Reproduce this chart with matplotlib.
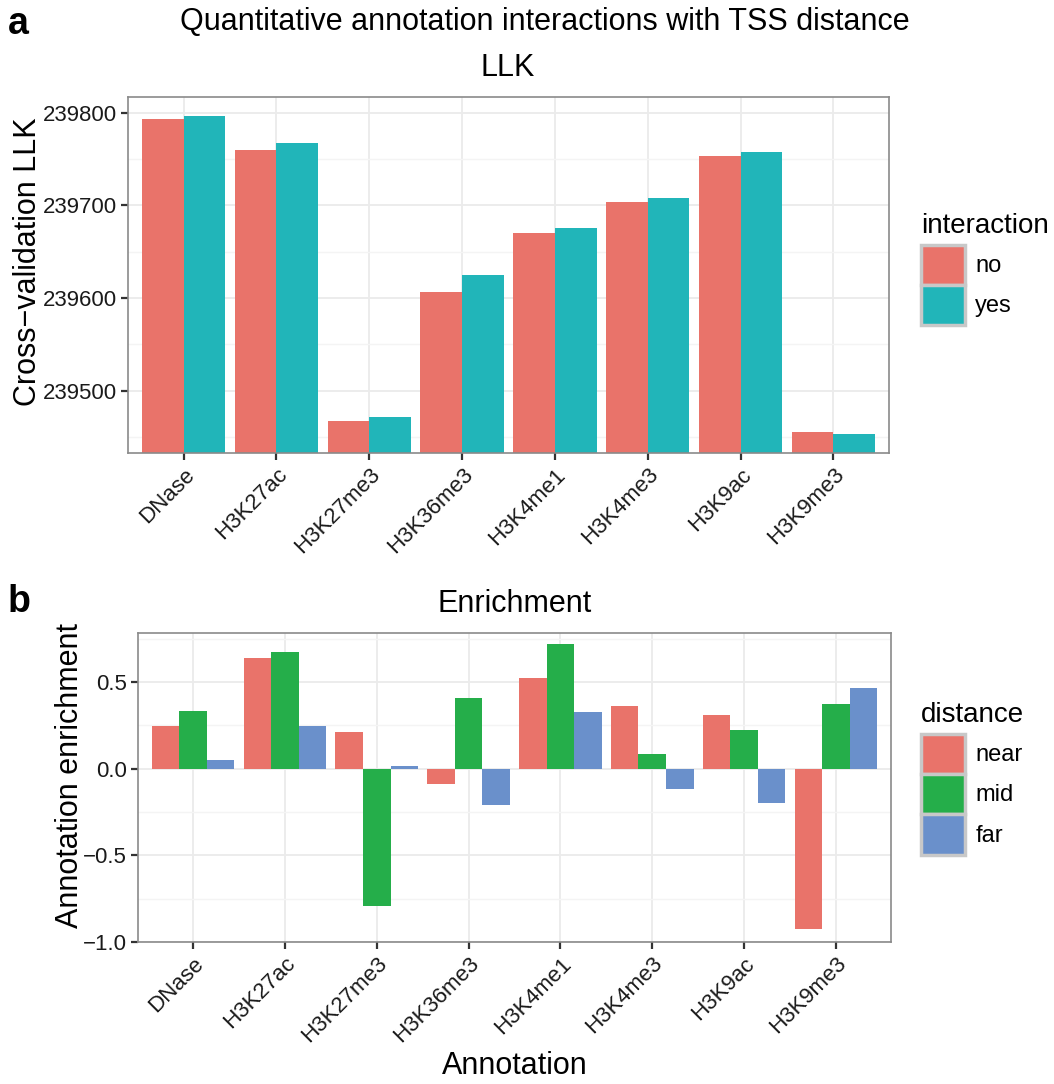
import matplotlib
matplotlib.use("Agg")
import matplotlib.pyplot as plt
import numpy as np
from matplotlib.ticker import MultipleLocator

plt.rcParams['font.family'] = ['Liberation Sans', 'DejaVu Sans']

annotations = ['DNase', 'H3K27ac', 'H3K27me3', 'H3K36me3', 'H3K4me1', 'H3K4me3', 'H3K9ac', 'H3K9me3']

# top panel: cross-validation LLK with / without interaction
llk_no = [239792.9, 239759.8, 239466.6, 239606.5, 239670.6, 239703.3, 239753.0, 239455.7]
llk_yes = [239796.4, 239767.0, 239471.6, 239624.8, 239676.0, 239708.0, 239757.3, 239453.5]

# bottom panel: enrichment by TSS distance
enr_near = [0.248, 0.639, 0.210, -0.087, 0.521, 0.364, 0.312, -0.923]
enr_mid = [0.335, 0.671, -0.790, 0.410, 0.717, 0.083, 0.225, 0.375]
enr_far = [0.052, 0.244, 0.013, -0.208, 0.327, -0.117, -0.200, 0.466]

red = '#E9736A'
teal = '#21B5B9'
green = '#25AE4A'
blue = '#6A90CB'

W, H = 1054, 1084


def fx(px):
    return px / W


def fy(py):
    return 1 - py / H


def style_axes(ax):
    ax.set_facecolor('white')
    for s in ax.spines.values():
        s.set_color('#8a8a8a')
        s.set_linewidth(1.2)
    ax.grid(which='major', color='#ebebeb', linewidth=1.3, zorder=0)
    ax.grid(which='minor', axis='y', color='#f4f4f4', linewidth=1.0, zorder=0)
    ax.set_axisbelow(True)
    ax.tick_params(axis='both', which='major', labelsize=16, length=5, width=1.6,
                   color='#333333', labelcolor='#1a1a1a', pad=3)
    ax.tick_params(axis='both', which='minor', length=0)


def legend_box(labels, colors, title, top):
    handles = [plt.Rectangle((0, 0), 1, 1, facecolor=c, edgecolor='#c8c8c8', linewidth=2.5) for c in colors]
    leg = fig.legend(handles, labels, title=title, loc='upper left', bbox_to_anchor=(fx(921), fy(top)),
                     frameon=False, fontsize=17, title_fontsize=20, handlelength=1.85, handleheight=2.25,
                     handletextpad=0.45, labelspacing=0.0, borderaxespad=0, borderpad=0)
    leg._legend_box.align = 'left'
    leg._legend_box.sep = 4
    return leg


fig = plt.figure(figsize=(W / 100, H / 100), dpi=100)

x = np.arange(len(annotations))

# ---- panel a ----
ax1 = fig.add_axes([fx(128), fy(453), fx(889 - 128), (453 - 97) / H])
w = 0.45
base = 239432.5
ax1.bar(x - w / 2, np.array(llk_no) - base, w, bottom=base, color=red, zorder=2)
ax1.bar(x + w / 2, np.array(llk_yes) - base, w, bottom=base, color=teal, zorder=2)
ax1.set_xlim(-0.6, 7.6)
ax1.set_ylim(base, 239817)
ax1.yaxis.set_major_locator(MultipleLocator(100))
ax1.yaxis.set_minor_locator(MultipleLocator(50))
ax1.yaxis.set_major_formatter(matplotlib.ticker.FormatStrFormatter('%d'))
ax1.set_xticks(x)
ax1.set_xticklabels(annotations, rotation=45, ha='right', rotation_mode='anchor')
style_axes(ax1)
fig.text(fx(28), fy(262), 'Cross\u2212validation LLK', rotation=90, ha='center', va='center', fontsize=22)
fig.text(fx(508), fy(68), 'LLK', ha='center', va='center', fontsize=22)
legend_box(['no', 'yes'], [red, teal], 'interaction', 213)

# ---- panel b ----
ax2 = fig.add_axes([fx(138), fy(942), fx(891 - 138), (942 - 633) / H])
w = 0.3
ax2.bar(x - w, enr_near, w, color=red, zorder=2)
ax2.bar(x, enr_mid, w, color=green, zorder=2)
ax2.bar(x + w, enr_far, w, color=blue, zorder=2)
ax2.set_xlim(-0.6, 7.6)
ax2.set_ylim(-1.0, 0.783)
ax2.yaxis.set_major_locator(MultipleLocator(0.5))
ax2.yaxis.set_minor_locator(MultipleLocator(0.25))
ax2.yaxis.set_major_formatter(matplotlib.ticker.FuncFormatter(lambda v, p: ('%.1f' % v).replace('-', '\u2212')))
ax2.set_xticks(x)
ax2.set_xticklabels(annotations, rotation=45, ha='right', rotation_mode='anchor')
style_axes(ax2)
fig.text(fx(70), fy(775), 'Annotation enrichment', rotation=90, ha='center', va='center', fontsize=22)
fig.text(fx(515), fy(1066), 'Annotation', ha='center', va='center', fontsize=22)
fig.text(fx(515), fy(604), 'Enrichment', ha='center', va='center', fontsize=22)
legend_box(['near', 'mid', 'far'], [red, green, blue], 'distance', 702)

fig.text(fx(545), fy(22), 'Quantitative annotation interactions with TSS distance',
         ha='center', va='center', fontsize=22)
fig.text(fx(8), fy(24), 'a', ha='left', va='center', fontsize=27, fontweight='bold')
fig.text(fx(8), fy(602), 'b', ha='left', va='center', fontsize=27, fontweight='bold')

fig.savefig('out.png', dpi=100, facecolor='white')
